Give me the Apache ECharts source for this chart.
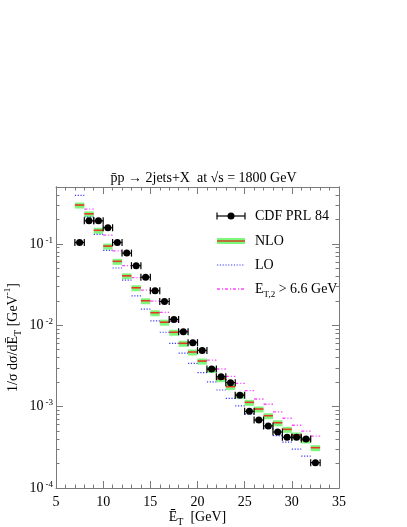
<!DOCTYPE html>
<html>
<head>
<meta charset="utf-8">
<script src="https://cdn.jsdelivr.net/npm/echarts@6/dist/echarts.min.js"></script>
<style>
  html, body { margin: 0; padding: 0; background: #fff; }
  #chart { width: 407px; height: 527px; }
</style>
</head>
<body>
<div id="chart"></div>
<script>
// lower edge of each 1 GeV bin
const binLow = [7, 8, 9, 10, 11, 12, 13, 14, 15, 16, 17, 18, 19, 20,
                21, 22, 23, 24, 25, 26, 27, 28, 29, 30, 31, 32];
const binWidth = 1;

// CDF PRL 84 points (bin centres)
const cdf = [0.104, 0.192, 0.192, 0.158, 0.104, 0.077, 0.054, 0.039, 0.0265, 0.0196,
             0.0118, 0.0083, 0.0061, 0.0049, 0.0029, 0.00233, 0.00197, 0.00138, 0.000875, 0.000684,
             0.000578, 0.000488, 0.00042, 0.00042, 0.0004, 0.000205];
// NLO histogram
const nlo = [0.30, 0.234, 0.147, 0.094, 0.061, 0.0405, 0.0289, 0.020, 0.01425, 0.0109,
             0.0082, 0.0060, 0.00469, 0.00363, 0.00287, 0.0022, 0.00176, 0.00138, 0.00113, 0.000935,
             0.000773, 0.000634, 0.000526, 0.000448, 0.000389, 0.000313];
// LO histogram
const lo = [0.395, 0.213, 0.131, 0.083, 0.0505, 0.0359, 0.0229, 0.0158, 0.0113, 0.0082,
            0.0060, 0.00455, 0.0034, 0.00261, 0.00202, 0.0016, 0.00126, 0.00102, 0.00081, 0.00068,
            0.000546, 0.00044, 0.000367, 0.0003, 0.000247, 0.000205];
// NLO with E_T,2 > 6.6 GeV
const et2cut = [0.104, 0.268, 0.19, 0.128, 0.082, 0.054, 0.0384, 0.027, 0.0198, 0.0144,
                0.0112, 0.0085, 0.0063, 0.0049, 0.00373, 0.0029, 0.00235, 0.00193, 0.00157, 0.00124,
                0.00107, 0.00086, 0.00072, 0.00059, 0.0005, 0.000435];

const xTicks = [5, 10, 15, 20, 25, 30, 35];
const yDecades = [1e-4, 1e-3, 1e-2, 1e-1];

const yMinor = [];
yDecades.forEach(d => {
  for (let k = 2; k <= 9; k++) {
    const v = +(d * k).toPrecision(3);
    if (v <= 0.5) yMinor.push(v);
  }
});

const serif = 'Liberation Serif';
const frame = '#7a7a7a';

function hist(vals) {
  return binLow.map((x, i) => [x, x + binWidth, vals[i]]);
}

function segItem(style) {
  return function (params, api) {
    const a = api.coord([api.value(0), api.value(2)]);
    const b = api.coord([api.value(1), api.value(2)]);
    return { type: 'line', shape: { x1: a[0], y1: a[1], x2: b[0], y2: b[1] }, style: style };
  };
}

function nloItem(params, api) {
  const a = api.coord([api.value(0), api.value(2)]);
  const b = api.coord([api.value(1), api.value(2)]);
  return {
    type: 'group',
    children: [
      { type: 'rect', shape: { x: a[0], y: a[1] - 2.5, width: b[0] - a[0], height: 6 },
        style: { fill: '#7ef77e' } },
      { type: 'line', shape: { x1: a[0], y1: a[1], x2: b[0], y2: b[1] },
        style: { stroke: '#e03a22', lineWidth: 1.6 } }
    ]
  };
}

function errItem(params, api) {
  const a = api.coord([api.value(0), api.value(2)]);
  const b = api.coord([api.value(1), api.value(2)]);
  const st = { stroke: '#000', lineWidth: 1.2 };
  return {
    type: 'group',
    children: [
      { type: 'line', shape: { x1: a[0], y1: a[1], x2: b[0], y2: b[1] }, style: st },
      { type: 'line', shape: { x1: a[0], y1: a[1] - 3.5, x2: a[0], y2: a[1] + 3.5 }, style: st },
      { type: 'line', shape: { x1: b[0], y1: b[1] - 3.5, x2: b[0], y2: b[1] + 3.5 }, style: st }
    ]
  };
}

const xBase = {
  type: 'value', min: 5, max: 35, interval: 5,
  axisLine: { show: true, lineStyle: { color: frame, width: 1 } },
  axisTick: { show: true, inside: true, length: 7, lineStyle: { color: frame } },
  minorTick: { show: true, splitNumber: 5, length: 3.5, lineStyle: { color: frame } },
  splitLine: { show: false },
  axisLabel: { show: false }
};

function yAxisDef(pos, ticks, len, labels) {
  return {
    type: 'log', min: 1e-4, max: 0.5, position: pos,
    axisLine: { show: true, onZero: false, lineStyle: { color: frame, width: 1 } },
    axisTick: { show: true, inside: true, length: len, customValues: ticks, lineStyle: { color: frame } },
    minorTick: { show: false },
    splitLine: { show: false },
    axisLabel: labels ? {
      customValues: yDecades, margin: 3,
      formatter: v => '{b|10}{e|' + Math.round(Math.log10(v)) + '}',
      rich: {
        b: { fontFamily: serif, fontSize: 14, color: '#000', lineHeight: 16, padding: [0, 2, 0, 0] },
        e: { fontFamily: serif, fontSize: 9, color: '#000', verticalAlign: 'top', lineHeight: 10 }
      }
    } : { show: false }
  };
}

const chart = echarts.init(document.getElementById('chart'), null, { renderer: 'canvas' });

const legX0 = 217, legX1 = 245, legText = 255;
const legY = [216, 241, 265, 289];
const legFont = { fontFamily: serif, fontSize: 14, fill: '#000' };

chart.setOption({
  animation: false,
  backgroundColor: '#fff',
  title: {
    text: 'p\u0304p \u2192 2jets+X  at \u221As = 1800 GeV',
    left: 'center', top: 166,
    textStyle: { fontFamily: serif, fontSize: 14, fontWeight: 'normal', color: '#000' }
  },
  grid: { left: 56, right: 68, top: 187, bottom: 39, outerBoundsMode: 'none', containLabel: false },
  xAxis: [
    Object.assign({}, xBase, {
      position: 'bottom',
      axisLabel: { show: true, customValues: xTicks, margin: 7,
        fontFamily: serif, fontSize: 14, color: '#000' },
      name: '{a|\u0112}{s|T}{a|  [GeV]}',
      nameLocation: 'middle', nameGap: 19, nameMoveOverlap: false,
      nameTextStyle: {
        rich: {
          a: { fontFamily: serif, fontSize: 14, color: '#000', lineHeight: 20 },
          s: { fontFamily: serif, fontSize: 10, color: '#000', verticalAlign: 'bottom', lineHeight: 10 }
        }
      }
    }),
    Object.assign({}, xBase, { position: 'top' })
  ],
  yAxis: [
    Object.assign(yAxisDef('left', yDecades, 7, true), {
      name: '{a|1/\u03C3 d\u03C3/d\u0112}{s|T}{a| [GeV}{p|-1}{a|]}',
      nameLocation: 'middle', nameGap: 33, nameMoveOverlap: false,
      nameTextStyle: {
        rich: {
          a: { fontFamily: serif, fontSize: 14, color: '#000', lineHeight: 20 },
          s: { fontFamily: serif, fontSize: 10, color: '#000', verticalAlign: 'bottom', lineHeight: 10 },
          p: { fontFamily: serif, fontSize: 9, color: '#000', verticalAlign: 'top', lineHeight: 10 }
        }
      }
    }),
    yAxisDef('right', yDecades, 7, false),
    yAxisDef('left', yMinor, 3.5, false),
    yAxisDef('right', yMinor, 3.5, false)
  ],
  series: [
    { type: 'custom', name: 'NLO', renderItem: nloItem, data: hist(nlo),
      encode: { x: [0, 1], y: 2 }, z: 2 },
    { type: 'custom', name: 'LO',
      renderItem: segItem({ stroke: '#3b3bff', lineWidth: 1.2, lineDash: [1.2, 1.6] }),
      data: hist(lo), encode: { x: [0, 1], y: 2 }, z: 3 },
    { type: 'custom', name: 'ET2',
      renderItem: segItem({ stroke: '#ff45ff', lineWidth: 1.3, lineDash: [3, 2, 1, 2] }),
      data: hist(et2cut), encode: { x: [0, 1], y: 2 }, z: 4 },
    { type: 'custom', name: 'CDF err', renderItem: errItem, data: hist(cdf),
      encode: { x: [0, 1], y: 2 }, z: 5 },
    { type: 'scatter', name: 'CDF PRL 84', symbol: 'circle', symbolSize: 7,
      itemStyle: { color: '#000', opacity: 1 },
      data: binLow.map((x, i) => [x + binWidth / 2, cdf[i]]), z: 6 }
  ],
  graphic: [
    // CDF
    { type: 'line', shape: { x1: legX0, y1: legY[0], x2: legX1, y2: legY[0] }, style: { stroke: '#000', lineWidth: 1.2 } },
    { type: 'line', shape: { x1: legX0, y1: legY[0] - 3.5, x2: legX0, y2: legY[0] + 3.5 }, style: { stroke: '#000', lineWidth: 1.2 } },
    { type: 'line', shape: { x1: legX1, y1: legY[0] - 3.5, x2: legX1, y2: legY[0] + 3.5 }, style: { stroke: '#000', lineWidth: 1.2 } },
    { type: 'circle', shape: { cx: (legX0 + legX1) / 2, cy: legY[0], r: 3.5 }, style: { fill: '#000' } },
    { type: 'text', x: legText, y: legY[0], style: Object.assign({ text: 'CDF PRL 84', verticalAlign: 'middle' }, legFont) },
    // NLO
    { type: 'rect', shape: { x: legX0, y: legY[1] - 3, width: legX1 - legX0, height: 6 }, style: { fill: '#7ef77e' } },
    { type: 'line', shape: { x1: legX0, y1: legY[1], x2: legX1, y2: legY[1] }, style: { stroke: '#c8502a', lineWidth: 1.6 } },
    { type: 'text', x: legText, y: legY[1], style: Object.assign({ text: 'NLO', verticalAlign: 'middle' }, legFont) },
    // LO
    { type: 'line', shape: { x1: legX0, y1: legY[2], x2: legX1, y2: legY[2] }, style: { stroke: '#3b3bff', lineWidth: 1.2, lineDash: [1.2, 1.6] } },
    { type: 'text', x: legText, y: legY[2], style: Object.assign({ text: 'LO', verticalAlign: 'middle' }, legFont) },
    // E_T,2 cut
    { type: 'line', shape: { x1: legX0, y1: legY[3], x2: legX1, y2: legY[3] }, style: { stroke: '#ff45ff', lineWidth: 1.3, lineDash: [3, 2, 1, 2] } },
    { type: 'text', x: legText, y: legY[3], style: {
        text: '{a|E}{s|T,2}{a| > 6.6 GeV}', verticalAlign: 'middle',
        rich: {
          a: { fontFamily: serif, fontSize: 14, fill: '#000', lineHeight: 20 },
          s: { fontFamily: serif, fontSize: 9, fill: '#000', verticalAlign: 'bottom', lineHeight: 10 }
        }
      } }
  ]
});
</script>
</body>
</html>
